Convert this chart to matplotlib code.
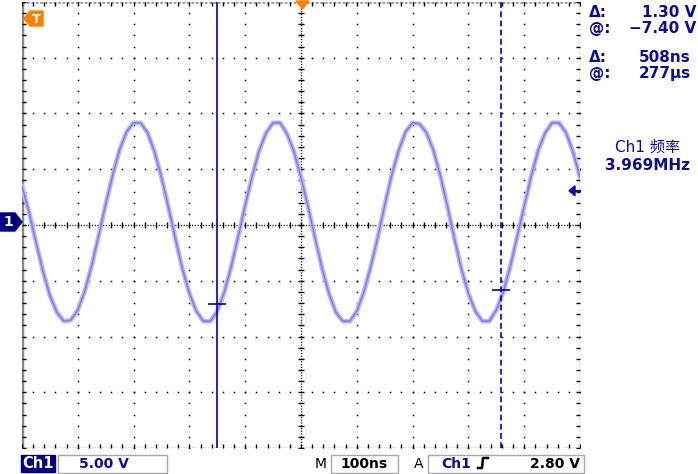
import numpy as np
import matplotlib
matplotlib.use('Agg')
import matplotlib.pyplot as plt
from matplotlib.patches import Rectangle, Polygon

# Ch1 trace, volts, one sample every 12.5 ns from -500 ns to +500 ns
volts = [3.2, 0.9, -1.8, -4.4, -6.6, -8.1, -8.9, -8.8, -7.9, -6.2,
         -3.9, -1.2, 1.6, 4.2, 6.5, 8.1, 8.9, 8.9, 8.0, 6.3,
         4.0, 1.3, -1.5, -4.2, -6.4, -8.0, -8.9, -8.9, -8.0, -6.3,
         -4.0, -1.3, 1.5, 4.1, 6.4, 8.0, 8.9, 8.9, 7.9, 6.3,
         4.0, 1.4, -1.4, -4.1, -6.4, -8.1, -8.9, -8.9, -8.0, -6.3,
         -4.0, -1.4, 1.5, 4.2, 6.4, 8.1, 8.9, 8.8, 8.0, 6.4,
         4.1, 1.4, -1.5, -4.2, -6.4, -8.0, -8.9, -8.9, -7.9, -6.3,
         -4.0, -1.3, 1.4, 4.1, 6.4, 8.0, 8.9, 8.9, 8.0, 6.3,
         4.0]
t_span = (-500, 500)          # ns, 100 ns/div
volts_per_div = 5.0
gnd_offset = 0.27             # ground marker sits a little above centre (V)

# cursors
cursor_t = [-150, 358]        # ns  -> delta 508 ns
cursor_v = [-7.40, -6.10]     # V   -> delta 1.30 V
trig_level = 2.80             # V

readout_lbl = ["\u0394:", "@:", "\u0394:", "@:"]
readout_val = ["1.30 V", "\u22127.40 V", "508ns", "277\u00b5s"]
freq_lbl = "Ch1 \u9891\u7387"
freq_val = "3.969MHz"

navy = '#0c0c96'
cur_col = '#0000b4'
trace_col = '#7c7cec'
orange = '#ff7f00'

W, H = 698, 474
fig = plt.figure(figsize=(W / 100, H / 100), dpi=100)
fig.patch.set_facecolor('white')

ax = fig.add_axes([22 / W, 26 / H, 558 / W, 446 / H])
yc = -gnd_offset
ylo = yc - 4 * volts_per_div
ax.set_xlim(*t_span)
ax.set_ylim(ylo, yc + 4 * volts_per_div)
ax.axis('off')


def v_to_px(v):
    # screen row (from top) of a voltage
    return 448 - 446 * (v - ylo) / 40.0


# graticule: dotted grid lines (dot every 0.2 div)
xs_fine = np.arange(-500, 501, 20)
ys_fine = yc + np.arange(-20, 20.01, 1.0)
for i in range(1, 10):
    if i == 5:
        continue
    x = -500 + 100 * i
    ax.plot(np.full(len(ys_fine), x), ys_fine, ls='none', marker='s', ms=1.1, mew=0, color='black')
for j in range(1, 8):
    if j == 4:
        continue
    y = yc - 20 + 5 * j
    ax.plot(xs_fine, np.full(len(xs_fine), y), ls='none', marker='s', ms=1.1, mew=0, color='black')

# centre cross with minor ticks
ax.plot([0, 0], [yc - 20, yc + 20], ls=(0, (0.8, 1.2)), lw=1, color='black')
ax.plot([-500, 500], [yc, yc], ls=(0, (0.8, 1.2)), lw=1, color='black')
ax.plot(np.zeros(len(ys_fine)), ys_fine, ls='none', marker='_', ms=4, mew=1, color='black')
ax.plot(xs_fine, np.full(len(xs_fine), yc), ls='none', marker='|', ms=4, mew=1, color='black')

# border
ax.plot([-500, -500], [yc - 20, yc + 20], lw=2.5, color='#8a8a8a', solid_capstyle='butt')
ax.plot([-500, 500], [yc + 20, yc + 20], lw=2, color='#9a9a9a', ls=(0, (1, 0.6)))
ax.plot([-500, 500], [yc - 20, yc - 20], ls=(0, (0.8, 1.2)), lw=1, color='black')
ax.plot([500, 500], [yc - 20, yc + 20], ls=(0, (0.8, 1.2)), lw=1, color='black')
ax.plot(np.full(len(ys_fine), -497), ys_fine, ls='none', marker='_', ms=3, mew=1, color='black')
ax.plot(np.full(len(ys_fine), 497), ys_fine, ls='none', marker='_', ms=3, mew=1, color='black')
ax.plot(xs_fine, np.full(len(xs_fine), yc - 19.8), ls='none', marker='|', ms=3, mew=1, color='black')
ax.plot(xs_fine, np.full(len(xs_fine), yc + 19.8), ls='none', marker='|', ms=3, mew=1, color='black')

# trace
t = np.linspace(t_span[0], t_span[1], len(volts))
ax.plot(t, volts, color='#b8b8f8', lw=3.4, solid_joinstyle='round', zorder=3)
ax.plot(t, volts, color=trace_col, lw=1.1, zorder=4)

# cursors
ax.axvline(cursor_t[0], color=cur_col, lw=1.2, zorder=5)
ax.axvline(cursor_t[1], color=cur_col, lw=1.2, ls=(0, (3.5, 2)), zorder=5)
for tc, vc in zip(cursor_t, cursor_v):
    ax.plot(tc, vc, marker='_', ms=13, mew=1.2, color=cur_col, zorder=6)

# overlay in pixel coordinates for markers and readouts
ov = fig.add_axes([0, 0, 1, 1])
ov.set_xlim(0, W)
ov.set_ylim(H, 0)
ov.axis('off')

# trigger position (top) and T marker
ov.add_patch(Polygon([(296, 1), (309, 1), (302.5, 9)], closed=True, color=orange))
ov.add_patch(Polygon([(24, 18.5), (30, 11), (43, 11), (43, 26), (30, 26)], closed=True, color=orange))
ov.text(36.5, 19, "T", color='white', fontsize=9, fontweight='bold', ha='center', va='center')

# channel 1 ground marker
ch_y = v_to_px(0)
ov.add_patch(Polygon([(0, ch_y - 9), (15, ch_y - 9), (22, ch_y), (15, ch_y + 9), (0, ch_y + 9)],
                     closed=True, color='#000080'))
ov.text(8.5, ch_y + 0.5, "1", color='white', fontsize=10, fontweight='bold', ha='center', va='center')

# trigger level arrow (right)
tl_y = v_to_px(trig_level)
ov.add_patch(Polygon([(569, tl_y), (575, tl_y - 5), (575, tl_y + 5)], closed=True, color=navy))
ov.plot([574, 580], [tl_y, tl_y], color=navy, lw=1.5)

# readouts (right side)
ys_read = [12, 28, 57, 73]
rx = [696, 696, 691, 691]
for lbl, val, y, x in zip(readout_lbl, readout_val, ys_read, rx):
    ov.text(589, y, lbl, color=navy, fontsize=11, fontweight='bold', ha='left', va='center')
    ov.text(x, y, val, color=navy, fontsize=11, fontweight='bold', ha='right', va='center')
ov.text(648, 147, freq_lbl, color=navy, fontsize=11, ha='center', va='center',
        family=['DejaVu Sans', 'Noto Sans CJK SC'])
ov.text(648, 165, freq_val, color=navy, fontsize=11, fontweight='bold', ha='center', va='center')

# status bar
ov.add_patch(Rectangle((21, 455), 34, 17, color='#000080'))
ov.text(38, 463.5, "Ch1", color='white', fontsize=10.5, fontweight='bold', ha='center', va='center')
ov.add_patch(Rectangle((57.5, 454.5), 109, 18, fill=False, ec='#a8a8a8', lw=1))
ov.text(104, 463.5, "5.00 V", color=navy, fontsize=10, fontweight='bold', ha='center', va='center')
ov.text(321, 463.5, "M", color='black', fontsize=10, ha='center', va='center')
ov.add_patch(Rectangle((330.5, 454.5), 67, 18, fill=False, ec='#a8a8a8', lw=1))
ov.text(364, 463.5, "100ns", color='black', fontsize=10, fontweight='bold', ha='center', va='center')
ov.text(419, 463.5, "A", color='black', fontsize=10, ha='center', va='center')
ov.add_patch(Rectangle((427.5, 454.5), 156, 18, fill=False, ec='#a8a8a8', lw=1))
ov.text(456, 463.5, "Ch1", color=navy, fontsize=10, fontweight='bold', ha='center', va='center')
ov.plot([478, 482, 483, 488], [468, 468, 458, 458], color='black', lw=1.8)
ov.text(580, 463.5, "2.80 V", color='black', fontsize=10, fontweight='bold', ha='right', va='center')

fig.savefig('out.png', dpi=100, facecolor='white')
